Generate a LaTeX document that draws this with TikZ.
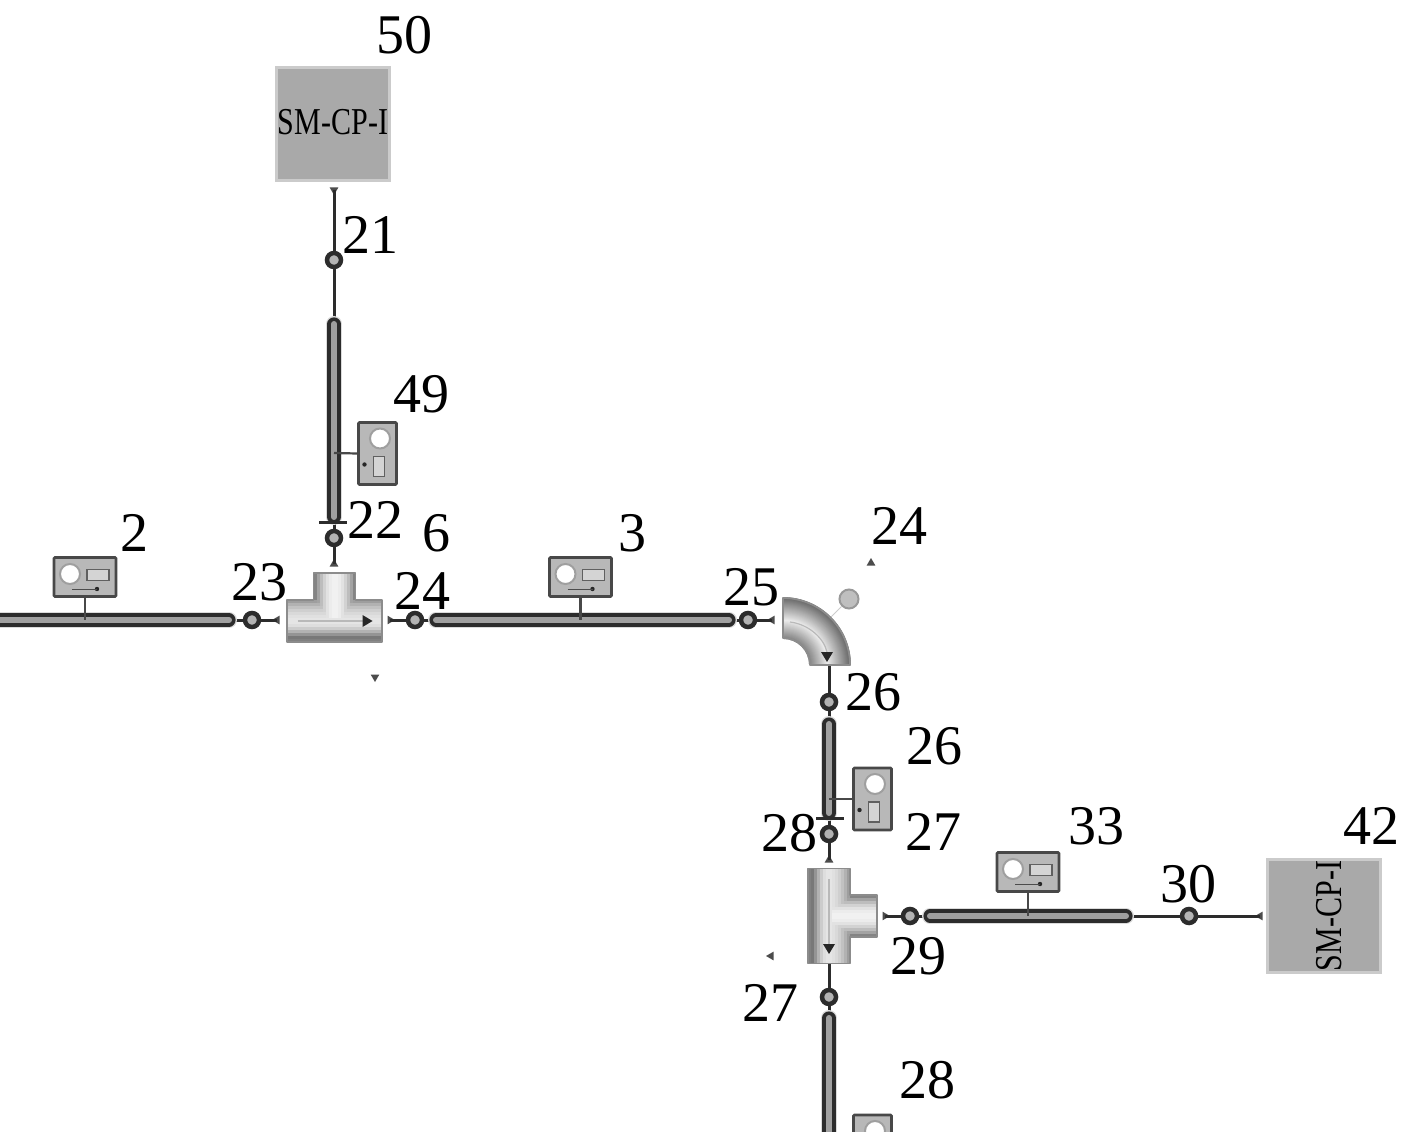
\documentclass[tikz,border=0pt]{standalone}
\usepackage{fontspec}
\setmainfont{Liberation Serif}
\usetikzlibrary{shapes.geometric}
\definecolor{pipedark}{HTML}{2C2C2C}
\definecolor{pipemid}{HTML}{A0A0A0}
\definecolor{gaugefill}{HTML}{B8B8B8}
\definecolor{gaugeedge}{HTML}{484848}
\definecolor{smfill}{HTML}{A9A9A9}
\definecolor{teeedge}{HTML}{8C8C8C}
\tikzset{
  x=1pt,y=-1pt,
  lab/.style={font=\fontsize{56}{60}\selectfont,inner sep=0pt,text=black},
  smbox/.style={draw=smfill!60,line width=3pt,fill=smfill,minimum size=113pt,inner sep=0pt},
  smtext/.style={font=\fontsize{38}{40}\selectfont,inner sep=0pt},
  junction/.style={circle,draw=pipedark,line width=4.5pt,fill=pipemid!80,minimum size=14pt,inner sep=0pt},
  conn/.style={draw=pipedark,line width=3pt},
  pipehalo/.style={draw=gray!28,line width=16pt,line cap=round},
  pipeline/.style={draw=pipedark,line width=3.6pt,double=pipemid,double distance=6pt,line cap=round},
  tip/.style={regular polygon,regular polygon sides=3,fill=gray!60!black,minimum size=10pt,inner sep=0pt,shape border rotate=#1},
  gaugebox/.style={draw=gaugeedge,line width=2.8pt,fill=gaugefill,inner sep=0pt,rounded corners=1pt},
  gaugeface/.style={circle,draw=gray!75,line width=2pt,fill=white,minimum size=20pt,inner sep=0pt},
  gaugeslot/.style={draw=gray!75!black,line width=1.6pt,fill=gaugefill!60,inner sep=0pt},
  tap/.style={draw=gaugeedge,line width=2.2pt},
  flange/.style={draw=pipedark,line width=3pt},
  flowline/.style={draw=gray!55,line width=1.2pt},
  flowhead/.style={fill=black!85},
}
\newcommand\hgauge[3]{%
  \node[gaugebox,minimum width=62pt,minimum height=39pt] (#1) at (#2,#3) {};
  \node[gaugeface] (#1f) at (#2-15,#3-3) {};
  \node[gaugeslot,minimum width=22pt,minimum height=11pt] (#1s) at (#2+13,#3-2) {};
  \path[flowhead] (#2+12,#3+12) circle (2.2pt);
  \draw[gray!60!black,line width=1pt] (#2-13,#3+12) -- (#2+12,#3+12);
}
\newcommand\vgauge[3]{%
  \node[gaugebox,minimum width=38pt,minimum height=62pt] (#1) at (#2,#3) {};
  \node[gaugeface] (#1f) at (#2+2.5,#3-15) {};
  \node[gaugeslot,minimum width=11pt,minimum height=20pt] (#1s) at (#2+1.5,#3+13) {};
  \path[flowhead] (#2-13,#3+11) circle (2.2pt);
}
\newcommand\pipelay[2]{%
  \draw[pipehalo] (#1) -- (#2);
  \draw[pipeline] (#1) -- (#2);
}
% tee in local coordinates, bar centred on the origin, stem towards -v
\newcommand\drawtee{%
  \foreach \v/\b in {-21/38,-18/30,-15/24,-12/19,-9/15,-6/12,-3/10,0/10,3/13,6/20,9/30,12/42,15/53,18/50} {
    \fill[black!\b] (-47.5,\v) rectangle (47.5,\v+3.4);
  }
  \foreach \u in {-21,-18,...,18} {
    \pgfmathsetmacro\uc{\u+1.5}
    \pgfmathsetmacro\ks{5+50*(\uc/21)*(\uc/21)}
    \fill[black!\ks] (\u,-48) rectangle (\u+3.3,-21);
    \foreach \v/\b in {-21/38,-18/30,-15/24,-12/19,-9/15,-6/12} {
      \pgfmathsetmacro\kc{min(\b,\ks)}
      \fill[black!\kc] (\u,\v) rectangle (\u+3.3,\v+3.3);
    }
  }
  \draw[teeedge,line width=1.8pt,line join=round]
    (-47.5,-21) -- (-21,-21) -- (-21,-48) -- (21,-48) -- (21,-21) -- (47.5,-21)
    -- (47.5,21) -- (-47.5,21) -- cycle;
  \draw[flowline] (-37,0) -- (30,0);
  \fill[flowhead] (38,0) -- (28,-6) -- (28,6) -- cycle;
}
\begin{document}
\begin{tikzpicture}
\useasboundingbox (0,0) rectangle (1417,1139);
\fill[white] (0,0) rectangle (1417,1139);

% boxes
\node[smbox] (sm50) at (332.5,124.5) {};
\node[smtext] (sm50t) at (333,122) {\scalebox{0.79}[1]{SM-CP-I}};
\node[smbox] (sm42) at (1324,915.5) {};
\node[smtext,rotate=90] (sm42t) at (1329.5,916) {\scalebox{0.79}[1]{SM-CP-I}};

% pipe end coordinates
\coordinate (a1) at (334,324); \coordinate (a2) at (334,517);
\coordinate (b1) at (-10,620); \coordinate (b2) at (229,620);
\coordinate (c1) at (436,620); \coordinate (c2) at (729,620);
\coordinate (d1) at (829,724); \coordinate (d2) at (829,813);
\coordinate (e1) at (930,916); \coordinate (e2) at (1126,916);
\coordinate (f1) at (829,1018);\coordinate (f2) at (829,1145);
\coordinate (elbowout) at (829,664);
\coordinate (tee2out) at (829,963);

% little port marks
\node[tip=180] (p50) at (334,190) {};
\node[tip=0] (p22) at (334,564) {};
\node[tip=90] (p23) at (277,620) {};
\node[tip=270] (p24) at (390,620) {};
\node[tip=90] (p25) at (772,620) {};
\node[tip=0] (p28) at (829,860) {};
\node[tip=270] (p29) at (885,916) {};
\node[tip=90] (p42) at (1260,916) {};
\node[tip=180] (m1) at (375,677) {};
\node[tip=0] (m2) at (871,563) {};
\node[tip=90] (m3) at (771,956) {};

% junction centres, so that the connectors can be drawn underneath
\coordinate (c21) at (334,260);
\coordinate (c22) at (334,538);
\coordinate (c23) at (252,620);
\coordinate (c24) at (415,620);
\coordinate (c25) at (748,620);
\coordinate (c26) at (829,702);
\coordinate (c28) at (829,834);
\coordinate (c29) at (910,916);
\coordinate (c30) at (1189,916);
\coordinate (c27) at (829,997);

% thin connectors
\draw[conn] (p50.center) -- (c21) -- (a1);
\draw[conn] (a2) -- (c22) -- (p22.center);
\draw[conn] (b2) -- (c23) -- (p23.center);
\draw[conn] (p24.center) -- (c24) -- (c1);
\draw[conn] (c2) -- (c25) -- (p25.center);
\draw[conn] (elbowout) -- (c26) -- (d1);
\draw[conn] (d2) -- (c28) -- (p28.center);
\draw[conn] (p29.center) -- (c29) -- (e1);
\draw[conn] (e2) -- (c30) -- (p42.center);
\draw[conn] (tee2out) -- (c27) -- (f1);

% junction circles
\node[junction] (j21) at (c21) {};
\node[junction] (j22) at (c22) {};
\node[junction] (j23) at (c23) {};
\node[junction] (j24) at (c24) {};
\node[junction] (j25) at (c25) {};
\node[junction] (j26) at (c26) {};
\node[junction] (j28) at (c28) {};
\node[junction] (j29) at (c29) {};
\node[junction] (j30) at (c30) {};
\node[junction] (j27) at (c27) {};

% pipes
\pipelay{a1}{a2}
\pipelay{b1}{b2}
\pipelay{c1}{c2}
\pipelay{d1}{d2}
\pipelay{e1}{e2}
\begin{scope}
  \clip (0,0) rectangle (1417,1131);
  \pipelay{f1}{f2}
  \vgauge{g28}{872.5}{1146}
\end{scope}
\coordinate (fa1) at (319,522); \coordinate (fa2) at (347,522);
\coordinate (fb1) at (816,818); \coordinate (fb2) at (844,818);
\draw[flange] (fa1) -- (fa2);
\draw[flange] (fb1) -- (fb2);

% gauges
\vgauge{g49}{377.5}{453.5}
\vgauge{g26}{872.5}{799}
\hgauge{g2}{85}{577}
\hgauge{g3}{580.5}{577}
\hgauge{g33}{1028}{872}
\coordinate (tapa) at (334,453);
\coordinate (tapb) at (85,620);
\coordinate (tapc) at (580.5,620);
\coordinate (tapd) at (829,799);
\coordinate (tape) at (1028,916);
\draw[tap] (g49.west) -- (tapa);
\draw[tap] (g2.south) -- (tapb);
\draw[tap] (g3.south) -- (tapc);
\draw[tap] (g26.west) -- (tapd);
\draw[tap] (g33.south) -- (tape);

% tees
\begin{scope}[shift={(334.5,621)}]
  \drawtee
\end{scope}
\begin{scope}[shift={(829,916)},rotate=-90]
  \drawtee
\end{scope}

% elbow
\foreach \r in {27,28,...,67} {
  \pgfmathsetmacro\gv{8+50*abs(\r-45)/22}
  \pgfmathsetmacro\kk{0.5523*\r}
  \draw[line width=1.8pt,color=black!\gv]
    (783,665-\r) .. controls (783+\kk,665-\r) and (783+\r,665-\kk) .. (783+\r,665);
}
\draw[teeedge,line width=1.8pt,line join=round]
  (783,598) .. controls (820,598) and (850,628) .. (850,665) -- (810,665)
  .. controls (810,650) and (798,638) .. (783,638) -- cycle;
\draw[flowline] (790,622) .. controls (808,624) and (824,638) .. (827,652);
\fill[flowhead] (827,662) -- (821,652) -- (833,652) -- cycle;
\node[circle,draw=gray!80,line width=2pt,fill=gray!50,minimum size=19pt,inner sep=0pt] (ball) at (849,599) {};
\coordinate (elbowtop) at (831,617);
\draw[gray!40,line width=1pt] (ball) -- (elbowtop);

% labels
\node[lab] (l50) at (404,35) {50};
\node[lab] (l21) at (370,235) {21};
\node[lab] (l49) at (421,394) {49};
\node[lab] (l2) at (134,533) {2};
\node[lab] (l22) at (375,520) {22};
\node[lab] (l6) at (436,533) {6};
\node[lab] (l3) at (632,533) {3};
\node[lab] (l24b) at (899,526) {24};
\node[lab] (l23) at (259,582) {23};
\node[lab] (l24) at (422,591) {24};
\node[lab] (l25) at (751,587) {25};
\node[lab] (l26) at (873,692) {26};
\node[lab] (l26b) at (934,746) {26};
\node[lab] (l28) at (789,833) {28};
\node[lab] (l27) at (933,832) {27};
\node[lab] (l33) at (1096,826) {33};
\node[lab] (l30) at (1188,884) {30};
\node[lab] (l42) at (1371,826) {42};
\node[lab] (l29) at (918,956) {29};
\node[lab] (l27b) at (770,1003) {27};
\node[lab] (l28b) at (927,1080) {28};
\end{tikzpicture}
\end{document}
